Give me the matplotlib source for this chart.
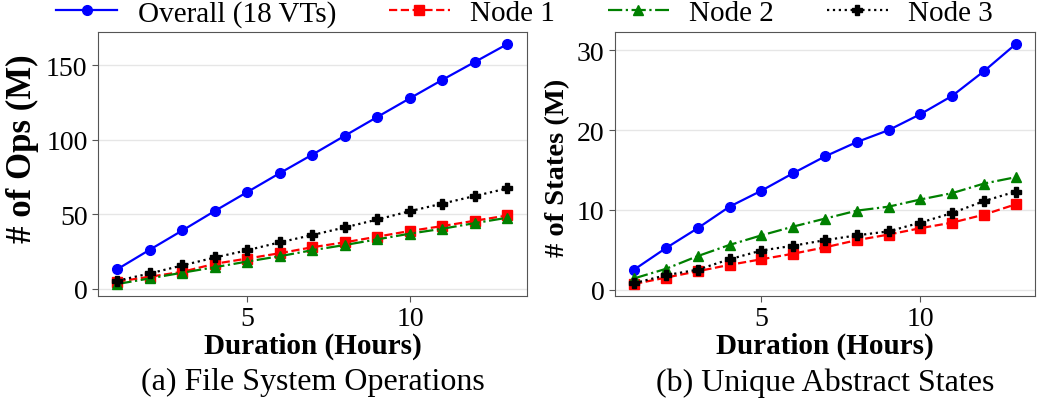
import matplotlib
matplotlib.use("Agg")
import matplotlib.pyplot as plt

hours = list(range(1, 14))

# (a) file system operations, millions
ops_overall = [13.1, 26.2, 39.1, 52.2, 64.9, 77.6, 90.0, 102.7, 115.3, 127.8, 140.2, 152.2, 164.2]
ops_node1 = [4.7, 8.0, 11.3, 16.7, 20.2, 23.8, 27.8, 31.1, 34.9, 38.7, 42.0, 45.6, 49.1]
ops_node2 = [3.1, 6.9, 10.7, 14.4, 18.2, 21.8, 25.8, 29.3, 33.1, 36.9, 40.2, 44.0, 47.6]
ops_node3 = [5.3, 10.2, 15.6, 20.9, 25.8, 31.1, 36.0, 41.1, 46.4, 52.0, 57.1, 62.2, 67.3]

# (b) unique abstract states, millions
st_overall = [2.5, 5.2, 7.7, 10.4, 12.4, 14.6, 16.7, 18.5, 20.0, 22.0, 24.3, 27.4, 30.8]
st_node1 = [0.7, 1.5, 2.3, 3.1, 3.8, 4.5, 5.3, 6.2, 6.9, 7.7, 8.4, 9.4, 10.7]
st_node2 = [1.4, 2.6, 4.2, 5.6, 6.8, 7.9, 8.9, 9.9, 10.4, 11.3, 12.1, 13.3, 14.1]
st_node3 = [0.8, 1.8, 2.5, 3.8, 4.9, 5.5, 6.2, 6.8, 7.3, 8.4, 9.6, 11.1, 12.3]

labels = ["Overall (18 VTs)", "Node 1", "Node 2", "Node 3"]
styles = [
    dict(color="blue", linestyle="-", marker="o"),
    dict(color="red", linestyle="--", marker="s"),
    dict(color="green", linestyle="-.", marker="^"),
    dict(color="black", linestyle=":", marker="P"),
]

plt.rcParams["font.family"] = ["Liberation Serif", "DejaVu Serif"]
plt.rcParams["font.size"] = 20

fig = plt.figure(figsize=(10.39, 4.1), dpi=100)
ax1 = fig.add_axes([0.0943, 0.2756, 0.4129, 0.6439])
ax2 = fig.add_axes([0.5919, 0.2756, 0.4042, 0.6439])

panels = [
    (ax1, [ops_overall, ops_node1, ops_node2, ops_node3], "# of Ops (M)", 25, (-0.177, 0.56),
     "(a) File System Operations"),
    (ax2, [st_overall, st_node1, st_node2, st_node3], "# of States (M)", 20.5, (-0.136, 0.49),
     "(b) Unique Abstract States"),
]

for ax, series, ylab, yfs, ypos, caption in panels:
    for vals, lab, st in zip(series, labels, styles):
        ax.plot(hours, vals, label=lab, linewidth=1.6, markersize=7, **st)
    ax.set_xticks([5, 10])
    ax.grid(axis="y", color="#e6e6e6", linewidth=1)
    ax.set_axisbelow(True)
    for s in ax.spines.values():
        s.set_color("#555555")
    ax.tick_params(colors="black", labelsize=20, length=4, color="#555555")
    ax.set_ylabel(ylab, fontweight="bold", fontsize=yfs, va="center")
    ax.yaxis.set_label_coords(*ypos)
    ax.set_xlabel("Duration (Hours)", fontweight="bold", fontsize=21, labelpad=0)
    ax.text(0.5, -0.27, caption, transform=ax.transAxes, ha="center", va="top", fontsize=23)

ax2.set_yticks([0, 10, 20, 30])

handles, labs = ax1.get_legend_handles_labels()
fig.legend(handles, labs, loc="center", bbox_to_anchor=(0.505, 0.965), ncol=4,
           frameon=False, fontsize=21, columnspacing=1.8, handlelength=2.1,
           handletextpad=0.7, borderaxespad=0)

fig.savefig("out.png", dpi=100)
